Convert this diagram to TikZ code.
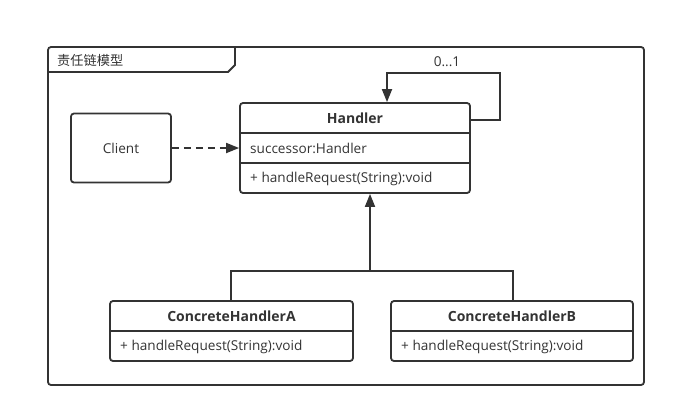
\documentclass[tikz,border=0pt]{standalone}
\usepackage{fontspec}
\setmainfont{Open Sans}
\newfontfamily\cjk{Noto Sans CJK SC}
\usetikzlibrary{arrows.meta}
\definecolor{ln}{HTML}{333333}
\tikzset{
  box/.style={draw=ln, line width=1.8pt, rounded corners=3pt, minimum width=#1, inner sep=0pt},
  lbl/.style={text=ln, font=\fontsize{13.6}{15}\selectfont, inner sep=0pt},
  ttl/.style={text=ln, font=\fontsize{14}{15}\selectfont\bfseries, inner sep=0pt},
  conn/.style={draw=ln, line width=1.8pt},
  tip/.style={-{Triangle[length=13pt,width=10pt]}},
}
\begin{document}
\begin{tikzpicture}[x=1pt,y=-1pt]
\useasboundingbox (0,0) rectangle (676,418);
% frame
\draw[conn, rounded corners=3pt] (48,47) rectangle (644,385);
\draw[conn] (48,72) -- (228,72) -- (235,65) -- (235,47);
\node[lbl, anchor=west, font=\cjk\fontsize{13.2}{15}\selectfont] (frm) at (57,60) {责任链模型};
% client
\node[box=100pt, minimum height=69pt] (client) at (121,148) {};
\node[lbl] (clientt) at (client.center) {Client};
% handler
\node[box=230pt, minimum height=90pt] (h) at (355,148) {};
\draw[conn] (240,133) -- (470,133) (240,163) -- (470,163);
\node[ttl] (ht) at (355,118) {Handler};
\node[lbl, anchor=west] (ha) at (250,148) {successor:Handler};
\node[lbl, anchor=west] (hm) at (250,179) {+ handleRequest(String):void};
% concrete A
\node[box=243pt, minimum height=60pt] (a) at (231.5,331) {};
\draw[conn] (110,331) -- (353,331);
\node[ttl] (at) at (231.5,316.5) {ConcreteHandlerA};
\node[lbl, anchor=west] (am) at (120,347) {+ handleRequest(String):void};
% concrete B
\node[box=242pt, minimum height=60pt] (b) at (512,331) {};
\draw[conn] (391,331) -- (633,331);
\node[ttl] (bt) at (512,316.5) {ConcreteHandlerB};
\node[lbl, anchor=west] (bm) at (401,347) {+ handleRequest(String):void};
% connectors
\draw[conn, dashed, dash pattern=on 7pt off 5pt, tip] (client.east) -- (h.west);
\coordinate (j) at (370,271);
\draw[conn] (a.north -| 231,0) -- (231,271) -- (513,271) -- (b.north -| 513,0);
\draw[conn, tip] (j) -- (h.south -| j);
\draw[conn, tip] (h.east |- 0,120) -- (500,120) -- (500,73) -- (387,73) -- (h.north -| 387,0);
\node[lbl] (mult) at (447,62) {0...1};
\end{tikzpicture}
\end{document}
